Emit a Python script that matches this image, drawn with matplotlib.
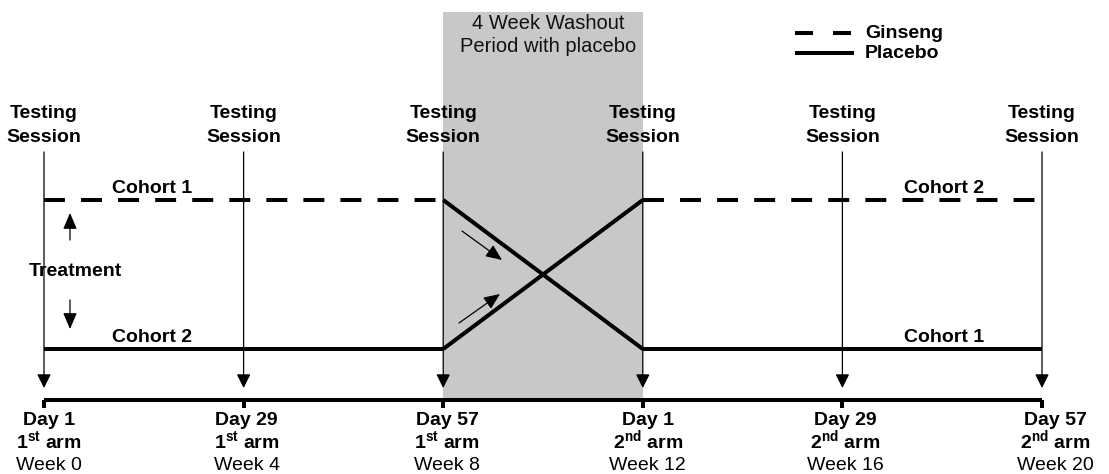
import matplotlib
matplotlib.use('Agg')
import matplotlib.pyplot as plt
from matplotlib.patches import Rectangle

plt.rcParams['font.family'] = ['Liberation Sans', 'DejaVu Sans']
plt.rcParams['mathtext.fontset'] = 'custom'
plt.rcParams['mathtext.rm'] = 'Liberation Sans:bold'
plt.rcParams['mathtext.bf'] = 'Liberation Sans:bold'

# ---------------- data ----------------
weeks = [0, 4, 8, 12, 16, 20]
day_labels = ['Day 1', 'Day 29', 'Day 57', 'Day 1', 'Day 29', 'Day 57']
arm_ordinals = ['1st', '1st', '1st', '2nd', '2nd', '2nd']
week_labels = ['Week 0', 'Week 4', 'Week 8', 'Week 12', 'Week 16', 'Week 20']
session_lines = ['Testing', 'Session']
washout_weeks = (8, 12)
washout_text = ['4 Week Washout', 'Period with placebo']
# treatment level: 1 = Ginseng, 0 = Placebo
path_weeks = [0, 8, 12, 20]
cohort1_levels = [1, 1, 0, 0]
cohort2_levels = [0, 0, 1, 1]
cohort_names = ['Cohort 1', 'Cohort 2']
legend_items = ['Ginseng', 'Placebo']

# ---------------- layout helpers ----------------
W_PX, H_PX = 1109, 474
PX0, PX_PER_WEEK = 44.0, 49.9
LVL0_PX, PX_PER_LVL = 349.0, 149.0


def X(px):
    return (px - PX0) / PX_PER_WEEK


def Y(px):
    return (LVL0_PX - px) / PX_PER_LVL


fig = plt.figure(figsize=(W_PX / 100, H_PX / 100), dpi=100)
ax = fig.add_axes([0, 0, 1, 1])
ax.set_xlim(X(0), X(W_PX))
ax.set_ylim(Y(H_PX), Y(0))
ax.axis('off')

LW = 2.9
FS = 14
DASH = (0, (5.2, 4.0))

# washout shading
ax.add_patch(Rectangle((washout_weeks[0], Y(400)), washout_weeks[1] - washout_weeks[0],
                       Y(12) - Y(400), facecolor='#c8c8c8', edgecolor='none', zorder=0))
for i, t in enumerate(washout_text):
    ax.text((washout_weeks[0] + washout_weeks[1]) / 2 + X(547) - X(542), Y(29 + 23 * i), t,
            ha='center', va='baseline', fontsize=FS + 0.5, color='#111111', zorder=2)

# cohort paths
for levels in (cohort1_levels, cohort2_levels):
    for k in range(len(path_weeks) - 1):
        xs = path_weeks[k:k + 2]
        ys = levels[k:k + 2]
        dashed = ys[0] == 1 and ys[1] == 1
        ax.plot(xs, ys, color='black', lw=LW, solid_capstyle='butt',
                dash_capstyle='butt', linestyle=DASH if dashed else '-', zorder=3)

# cohort labels
ax.text(X(152), Y(193), cohort_names[0], ha='center', va='baseline', fontsize=FS, fontweight='bold')
ax.text(X(152), Y(342), cohort_names[1], ha='center', va='baseline', fontsize=FS, fontweight='bold')
ax.text(X(944), Y(193), cohort_names[1], ha='center', va='baseline', fontsize=FS, fontweight='bold')
ax.text(X(944), Y(342), cohort_names[0], ha='center', va='baseline', fontsize=FS, fontweight='bold')

# testing session markers
for w in weeks:
    ax.annotate('', xy=(w, Y(388)), xytext=(w, Y(152)),
                arrowprops=dict(arrowstyle='-|>,head_length=0.6,head_width=0.3',
                                mutation_scale=14, lw=0.9, color='black',
                                shrinkA=0, shrinkB=0), zorder=4)
    for i, s in enumerate(session_lines):
        ax.text(w, Y(118 + 24 * i), s, ha='center', va='baseline', fontsize=FS, fontweight='bold')

# timeline
ax.plot([weeks[0], weeks[-1]], [Y(400), Y(400)], color='black', lw=LW, solid_capstyle='butt', zorder=3)
ax.vlines(weeks, Y(400), Y(408), color='black', lw=LW, zorder=3)

offsets = [5, 3, 4, 5, 3, 13]
for w, d, a, wk, off in zip(weeks, day_labels, arm_ordinals, week_labels, offsets):
    xc = w + off / PX_PER_WEEK
    ax.text(xc, Y(425), d, ha='center', va='baseline', fontsize=FS, fontweight='bold')
    ax.text(xc, Y(449), a[0] + r'$^{\rm ' + a[1:] + r'}$' + ' arm', ha='center', va='baseline',
            fontsize=FS, fontweight='bold')
    ax.text(xc, Y(470), wk, ha='center', va='baseline', fontsize=FS)

# treatment
ax.text(X(75), Y(276), 'Treatment', ha='center', va='baseline', fontsize=FS, fontweight='bold', zorder=5)
arrow_kw = dict(arrowstyle='-|>,head_length=0.7,head_width=0.3', mutation_scale=14,
                lw=0.9, color='black', shrinkA=0, shrinkB=0)
ax.annotate('', xy=(X(70), Y(213)), xytext=(X(70), Y(240)), arrowprops=arrow_kw)
ax.annotate('', xy=(X(70), Y(329)), xytext=(X(70), Y(300)), arrowprops=arrow_kw)

# small arrows in washout
ax.annotate('', xy=(X(502), Y(260)), xytext=(X(462), Y(231)), arrowprops=arrow_kw, zorder=4)
ax.annotate('', xy=(X(500), Y(294)), xytext=(X(459), Y(323)), arrowprops=arrow_kw, zorder=4)

# legend
ax.plot([X(795), X(854)], [Y(33), Y(33)], color='black', lw=LW,
        linestyle=(0, (18 / 1.389 / LW, 20 / 1.389 / LW)), dash_capstyle='butt')
ax.plot([X(795), X(854)], [Y(53), Y(53)], color='black', lw=LW, solid_capstyle='butt')
ax.text(X(865), Y(33), legend_items[0], ha='left', va='center', fontsize=FS, fontweight='bold')
ax.text(X(865), Y(53), legend_items[1], ha='left', va='center', fontsize=FS, fontweight='bold')

fig.savefig('out.png', dpi=100)
